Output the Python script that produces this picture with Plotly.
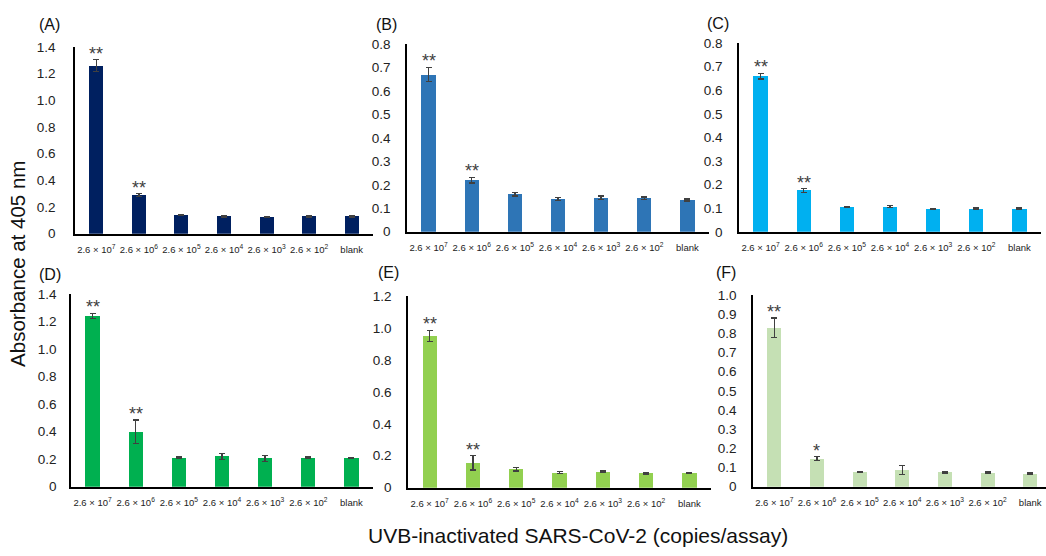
import plotly.graph_objects as go

W, H = 1046, 556

categories = ["2.6 × 10<sup>7</sup>", "2.6 × 10<sup>6</sup>", "2.6 × 10<sup>5</sup>", "2.6 × 10<sup>4</sup>",
              "2.6 × 10<sup>3</sup>", "2.6 × 10<sup>2</sup>", "blank"]

A_vals = [1.26, 0.29, 0.14, 0.13, 0.125, 0.13, 0.13]
A_err = [0.045, 0.01, 0.005, 0.004, 0.004, 0.004, 0.004]
A_sig = ["**", "**", "", "", "", "", ""]

B_vals = [0.67, 0.22, 0.16, 0.14, 0.145, 0.143, 0.135]
B_err = [0.03, 0.012, 0.008, 0.007, 0.007, 0.005, 0.004]
B_sig = ["**", "**", "", "", "", "", ""]

C_vals = [0.66, 0.175, 0.105, 0.106, 0.098, 0.098, 0.098]
C_err = [0.012, 0.008, 0.003, 0.004, 0.002, 0.003, 0.003]
C_sig = ["**", "**", "", "", "", "", ""]

D_vals = [1.24, 0.40, 0.21, 0.22, 0.205, 0.21, 0.21]
D_err = [0.02, 0.085, 0.005, 0.02, 0.02, 0.005, 0.004]
D_sig = ["**", "**", "", "", "", "", ""]

E_vals = [0.95, 0.155, 0.115, 0.095, 0.10, 0.089, 0.092]
E_err = [0.035, 0.045, 0.01, 0.005, 0.005, 0.003, 0.004]
E_sig = ["**", "**", "", "", "", "", ""]

F_vals = [0.83, 0.146, 0.077, 0.087, 0.075, 0.073, 0.068]
F_err = [0.05, 0.01, 0.002, 0.022, 0.003, 0.003, 0.003]
F_sig = ["**", "*", "", "", "", "", ""]

A_ticks = [0, 0.2, 0.4, 0.6, 0.8, 1.0, 1.2, 1.4]
A_ticktext = ["0", "0.2", "0.4", "0.6", "0.8", "1.0", "1.2", "1.4"]
B_ticks = [0, 0.1, 0.2, 0.3, 0.4, 0.5, 0.6, 0.7, 0.8]
B_ticktext = ["0", "0.1", "0.2", "0.3", "0.4", "0.5", "0.6", "0.7", "0.8"]
E_ticks = [0, 0.2, 0.4, 0.6, 0.8, 1.0, 1.2]
E_ticktext = ["0", "0.2", "0.4", "0.6", "0.8", "1.0", "1.2"]
F_ticks = [0, 0.1, 0.2, 0.3, 0.4, 0.5, 0.6, 0.7, 0.8, 0.9, 1.0]
F_ticktext = ["0", "0.1", "0.2", "0.3", "0.4", "0.5", "0.6", "0.7", "0.8", "0.9", "1.0"]

panels = [
    # label, vals, err, sig, color, ymax, ticks, ticktext, px box (x0, x1, ytop, ybottom), x range end, label pos, standoff
    ("(A)", A_vals, A_err, A_sig, "#002060", 1.4, A_ticks, A_ticktext, (75, 373, 41, 233), 6.5, (37, 18), 15),
    ("(B)", B_vals, B_err, B_sig, "#2E75B6", 0.8, B_ticks, B_ticktext, (407, 709, 38, 231), 6.5, (374, 18), 12),
    ("(C)", C_vals, C_err, C_sig, "#00B0F0", 0.8, B_ticks, B_ticktext, (739, 1041, 37, 231), 6.5, (705, 17), 12),
    ("(D)", D_vals, D_err, D_sig, "#00B050", 1.4, A_ticks, A_ticktext, (71, 373, 295, 493), 6.5, (37, 275), 10),
    ("(E)", E_vals, E_err, E_sig, "#92D050", 1.2, E_ticks, E_ticktext, (408, 711, 297, 494), 6.5, (376, 273), 12),
    ("(F)", F_vals, F_err, F_sig, "#C5E0B4", 1.0, F_ticks, F_ticktext, (753, 1046, 296, 493), 6.37, (714, 273), 12),
]

fig = go.Figure()
layout = dict(
    width=W, height=H,
    margin=dict(l=0, r=0, t=0, b=0),
    paper_bgcolor="white", plot_bgcolor="white",
    showlegend=False,
    font=dict(family="Liberation Sans, Arial, sans-serif", color="#404040"),
    annotations=[],
    bargap=0,
)

xpos = list(range(len(categories)))
for i, (lab, vals, err, sig, color, ymax, ticks, ttext, box, xend, lpos, stand) in enumerate(panels):
    n = "" if i == 0 else str(i + 1)
    x0, x1, yt, yb = box
    fig.add_trace(go.Bar(
        x=xpos, y=vals, width=0.33,
        marker=dict(color=color, line=dict(width=0)),
        error_y=dict(type="data", array=err, visible=True, color="#404040", thickness=1.3, width=3),
        xaxis="x" + n, yaxis="y" + n,
    ))
    layout["xaxis" + n] = dict(
        domain=[x0 / W, x1 / W], anchor="y" + n,
        range=[-0.5, xend], tickvals=xpos, ticktext=categories,
        showline=True, linecolor="#000000", linewidth=1.5, ticks="",
        showgrid=False, zeroline=False, fixedrange=True,
        tickfont=dict(size=9.5, color="#222222"), ticklabelstandoff=6,
    )
    layout["yaxis" + n] = dict(
        domain=[1 - yb / H, 1 - yt / H], anchor="x" + n,
        range=[0, ymax], tickvals=ticks, ticktext=ttext,
        showline=True, linecolor="#000000", linewidth=1.5, ticks="",
        showgrid=False, zeroline=False, fixedrange=True,
        tickfont=dict(size=13.5, color="#222222"), ticklabelstandoff=stand,
    )
    layout["annotations"].append(dict(
        text=lab, x=lpos[0] / W, y=1 - lpos[1] / H, xref="paper", yref="paper",
        xanchor="left", yanchor="middle", showarrow=False,
        font=dict(size=16, color="#111111"),
    ))
    for j, s in enumerate(sig):
        if s:
            layout["annotations"].append(dict(
                text=s, x=xpos[j], y=vals[j] + err[j], xref="x" + n, yref="y" + n,
                xanchor="center", yanchor="bottom", showarrow=False, yshift=-6,
                font=dict(size=18, color="#404040"),
            ))

layout["annotations"].append(dict(
    text="Absorbance at 405 nm", x=18 / W, y=1 - 264 / H, xref="paper", yref="paper",
    textangle=-90, showarrow=False, xanchor="center", yanchor="middle",
    font=dict(size=20.5, color="#111111"),
))
layout["annotations"].append(dict(
    text="UVB-inactivated SARS-CoV-2 (copies/assay)", x=578 / W, y=1 - 543 / H,
    xref="paper", yref="paper", showarrow=False, xanchor="center", yanchor="middle",
    font=dict(size=21, color="#111111"),
))

fig.update_layout(**layout)
fig.write_html("out.html")
